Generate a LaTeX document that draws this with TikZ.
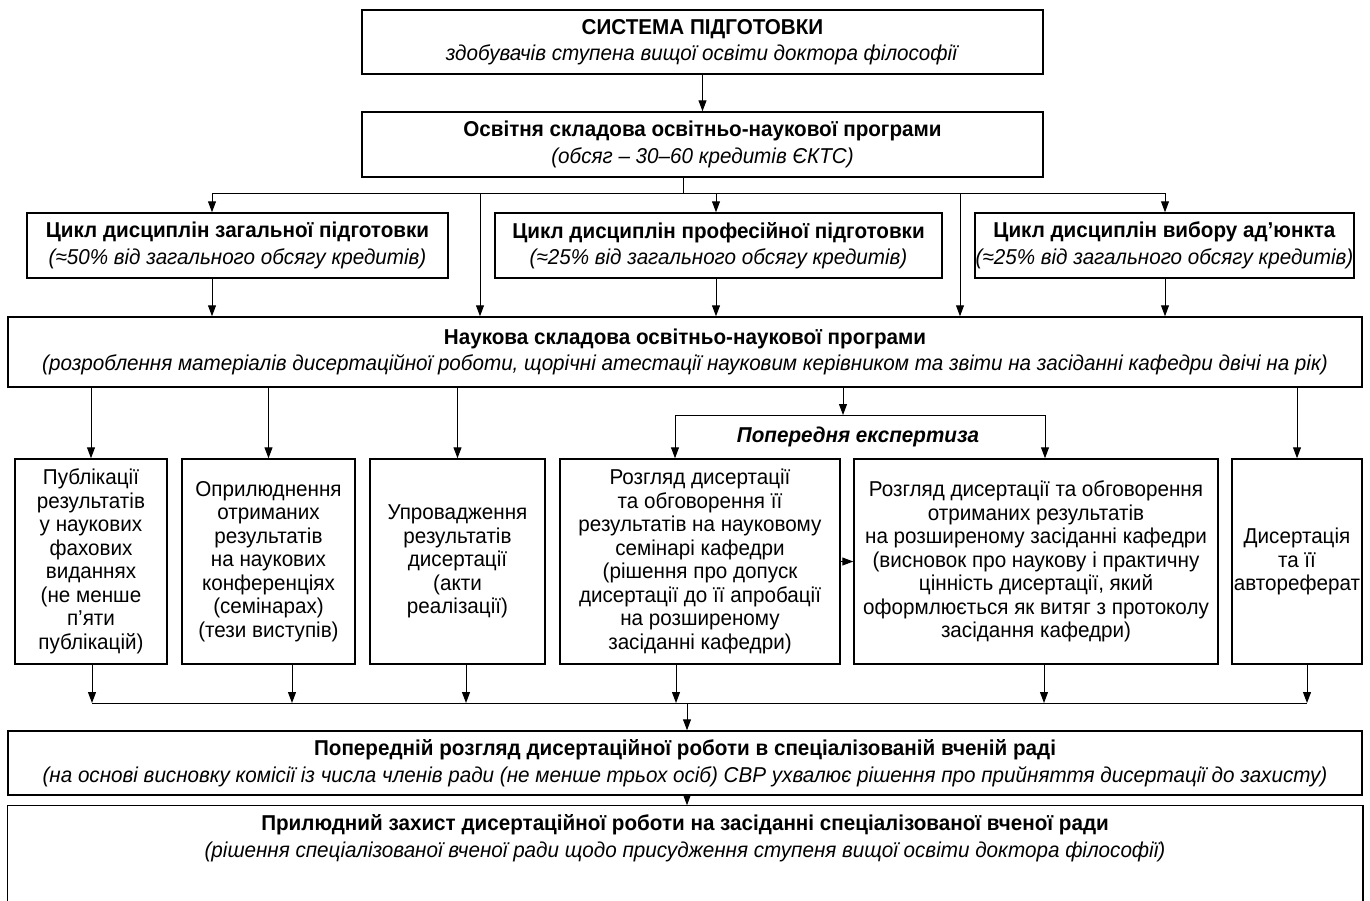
\documentclass[tikz,border=0pt]{standalone}
\usepackage{fontspec}
\setmainfont{Liberation Sans}[FakeStretch=0.96]
\usetikzlibrary{arrows.meta}

\begin{document}
\begin{tikzpicture}[x=1pt,y=-1pt,
    font=\fontsize{21.5}{23.5}\selectfont,
    blk/.style={draw,line width=1.5pt,align=center,inner sep=0pt},
    arr/.style={line width=1pt,-{Triangle[length=11pt,width=8pt]}},
    ln/.style={line width=1pt}]
  \useasboundingbox (0,0) rectangle (1370,900);
  %% Blocks
  \node[blk,minimum width=681pt,minimum height=64pt] (sys) at (702.5,42) {\textbf{СИСТЕМА ПІДГОТОВКИ}\\[3pt]\textit{здобувачів ступена вищої освіти доктора філософії}};
  \node[blk,minimum width=681pt,minimum height=65pt] (osv) at (702.5,144.5) {\textbf{Освітня складова освітньо-наукової програми}\\[3pt]\textit{(обсяг -- 30--60 кредитів ЄКТС)}};
  \node[blk,minimum width=421pt,minimum height=65pt] (cyc1) at (237.5,245.5) {\textbf{Цикл дисциплін загальної підготовки}\\[3pt]\textit{(≈50\% від загального обсягу кредитів)}};
  \node[blk,minimum width=447pt,minimum height=65pt] (cyc2) at (718.5,245.5) {\textbf{Цикл дисциплін професійної підготовки}\\[3pt]\textit{(≈25\% від загального обсягу кредитів)}};
  \node[blk,minimum width=379pt,minimum height=65pt] (cyc3) at (1164.5,245.5) {\textbf{Цикл дисциплін вибору ад’юнкта}\\[3pt]\textit{(≈25\% від загального обсягу кредитів)}};
  \node[blk,minimum width=1354pt,minimum height=70pt] (nauk) at (685,352) {\textbf{Наукова складова освітньо-наукової програми}\\[3pt]\textit{(розроблення матеріалів дисертаційної роботи, щорічні атестації науковим керівником та звіти на засіданні кафедри двічі на рік)}};
  %% Results
  \node[blk,minimum width=152pt,minimum height=205pt] (pub) at (91,561.5) {Публікації\\результатів\\у наукових\\фахових\\виданнях\\(не менше\\п’яти\\публікацій)};
  \node[blk,minimum width=173pt,minimum height=205pt] (opr) at (268.5,561.5) {Оприлюднення\\отриманих\\результатів\\на наукових\\конференціях\\(семінарах)\\(тези виступів)};
  \node[blk,minimum width=175pt,minimum height=205pt] (upr) at (457.5,561.5) {Упровадження\\результатів\\дисертації\\(акти\\реалізації)};
  \node[blk,minimum width=280pt,minimum height=205pt] (rozg1) at (700,561.5) {Розгляд дисертації\\та обговорення її\\результатів на науковому\\семінарі кафедри\\(рішення про допуск\\дисертації до її апробації\\на розширеному\\засіданні кафедри)};
  \node[blk,minimum width=364pt,minimum height=205pt] (rozg2) at (1036,561.5) {Розгляд дисертації та обговорення\\отриманих результатів\\на розширеному засіданні кафедри\\(висновок про наукову і практичну\\цінність дисертації, який\\оформлюється як витяг з протоколу\\засідання кафедри)};
  \node[blk,minimum width=130pt,minimum height=205pt] (dys) at (1297,561.5) {Дисертація\\та її\\автореферат};
  \node[font=\fontsize{21.5}{23.5}\selectfont\bfseries\itshape] (explbl) at (858,437) {Попередня експертиза};
  %% Council
  \node[blk,minimum width=1354pt,minimum height=64pt] (fin1) at (685,763) {\textbf{Попередній розгляд дисертаційної роботи в спеціалізованій вченій раді}\\[3pt]\textit{(на основі висновку комісії із числа членів ради (не менше трьох осіб) СВР ухвалює рішення про прийняття дисертації до захисту)}};
  \node[blk,draw=none,minimum width=1354pt,minimum height=64pt] (fin2) at (685,838) {\textbf{Прилюдний захист дисертаційної роботи на засіданні спеціалізованої вченої ради}\\[3pt]\textit{(рішення спеціалізованої вченої ради щодо присудження ступеня вищої освіти доктора філософії)}};
  \draw[line width=1.5pt] (fin2.north west) rectangle ([yshift=-40pt]fin2.south east);
  %% Arrows
  \coordinate (hub) at (683,193);
  \coordinate (t1) at (212,193);
  \coordinate (t2) at (480,193);
  \coordinate (t3) at (716,193);
  \coordinate (t4) at (960,193);
  \coordinate (t5) at (1165,193);
  \draw[arr] (sys) -- (osv);
  \draw[ln] (osv.south -| hub) -- (hub);
  \draw[ln] (t1) -- (t5);
  \draw[arr] (t1) -- (t1 |- cyc1.north);
  \draw[arr] (t3) -- (t3 |- cyc2.north);
  \draw[arr] (t5) -- (t5 |- cyc3.north);
  \draw[arr] (t2) -- (t2 |- nauk.north);
  \draw[arr] (t4) -- (t4 |- nauk.north);
  \draw[arr] (cyc1.south -| t1) -- (t1 |- nauk.north);
  \draw[arr] (cyc2.south -| t3) -- (t3 |- nauk.north);
  \draw[arr] (cyc3.south -| t5) -- (t5 |- nauk.north);
  \foreach \b in {pub,opr,upr,dys}
    \draw[arr] (nauk.south -| \b.north) -- (\b.north);
  \coordinate (exp) at (843,415);
  \coordinate (expL) at (675,415);
  \coordinate (expR) at (1045,415);
  \draw[arr] (nauk.south -| exp) -- (exp);
  \draw[ln] (expL) -- (expR);
  \draw[arr] (expL) -- (expL |- rozg1.north);
  \draw[arr] (expR) -- (expR |- rozg2.north);
  \draw[arr] (rozg1) -- (rozg2);
  \coordinate (m1) at (92,703);
  \coordinate (m2) at (292,703);
  \coordinate (m3) at (466,703);
  \coordinate (m4) at (676,703);
  \coordinate (m5) at (1044,703);
  \coordinate (m6) at (1307,703);
  \coordinate (mc) at (687,703);
  \draw[arr] (pub.south -| m1) -- (m1);
  \draw[arr] (opr.south -| m2) -- (m2);
  \draw[arr] (upr.south -| m3) -- (m3);
  \draw[arr] (rozg1.south -| m4) -- (m4);
  \draw[arr] (rozg2.south -| m5) -- (m5);
  \draw[arr] (dys.south -| m6) -- (m6);
  \draw[ln] (m1) -- (m6);
  \draw[arr] (mc) -- (mc |- fin1.north);
  \draw[arr] (fin1.south -| mc) -- (mc |- fin2.north);
\end{tikzpicture}
\end{document}
